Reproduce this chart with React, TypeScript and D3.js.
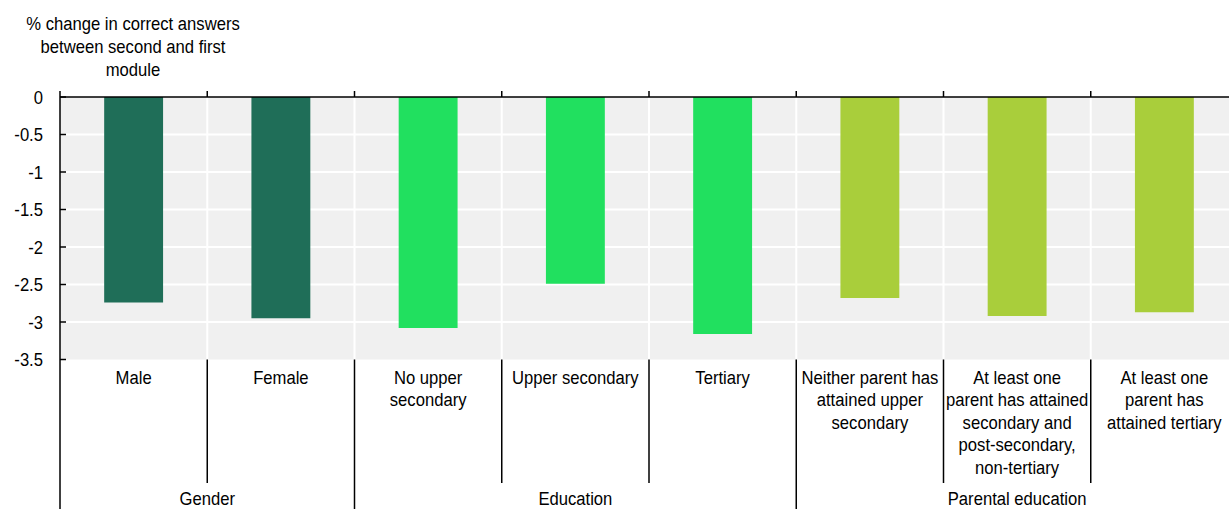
import React from "react";
import * as d3 from "d3";

const categories = [
  "Male",
  "Female",
  "No upper\nsecondary",
  "Upper secondary",
  "Tertiary",
  "Neither parent has\nattained upper\nsecondary",
  "At least one\nparent has attained\nsecondary and\npost-secondary,\nnon-tertiary",
  "At least one\nparent has\nattained tertiary",
];
const values = [-2.74, -2.95, -3.08, -2.49, -3.16, -2.68, -2.92, -2.87];
const categoryGroup = [0, 0, 1, 1, 1, 2, 2, 2];
const groups = ["Gender", "Education", "Parental education"];
const groupColors = ["#1f6e58", "#21e05f", "#a9ce3b"];
const yTicks = [0, -0.5, -1, -1.5, -2, -2.5, -3, -3.5];
const yTickLabels = ["0", "-0.5", "-1", "-1.5", "-2", "-2.5", "-3", "-3.5"];
const titleLines = ["% change in correct answers", "between second and first", "module"];

const W = 1229;
const H = 509;
const left = 60;
const right = 1238;
const top = 97;
const bottom = 359.5;
const FONT = "'Liberation Sans', Arial, sans-serif";
const FS = 18.5;
const SX = 0.9;

function T({ x, y, anchor = "middle", children }: any) {
  return (
    <text
      transform={`translate(${x},${y}) scale(${SX},1)`}
      textAnchor={anchor}
      fontFamily={FONT}
      fontSize={FS}
      fill="#000"
    >
      {children}
    </text>
  );
}

export default function App() {
  const x = d3.scaleBand<string>().domain(categories).range([left, right]).padding(0);
  const y = d3.scaleLinear().domain([0, -3.5]).range([top, bottom]);
  const bw = x.bandwidth();
  const barW = bw * 0.4;

  const boundaries = categories.slice(1).map((c, i) => ({
    x: x(c)!,
    isGroup: categoryGroup[i + 1] !== categoryGroup[i],
  }));

  const groupSpans = groups.map((g, gi) => {
    const idx = categoryGroup.map((v, i) => (v === gi ? i : -1)).filter((i) => i >= 0);
    const x0 = x(categories[idx[0]])!;
    const x1 = x(categories[idx[idx.length - 1]])! + bw;
    return { g, cx: (x0 + x1) / 2 };
  });

  return (
    <svg
      width={W}
      height={H}
      style={{ position: "absolute", left: 0, top: 0, background: "#fff" }}
    >
      <rect x={left} y={top} width={right - left} height={bottom - top} fill="#f0f0f0" />
      {yTicks.slice(1, -1).map((t) => (
        <line key={t} x1={left} x2={right} y1={y(t)} y2={y(t)} stroke="#fff" strokeWidth={2} />
      ))}
      {boundaries.map((b, i) => (
        <line key={i} x1={b.x} x2={b.x} y1={top} y2={bottom} stroke="#fff" strokeWidth={2} />
      ))}
      {categories.map((c, i) => (
        <rect
          key={c}
          x={x(c)! + (bw - barW) / 2}
          y={y(0)}
          width={barW}
          height={y(values[i]) - y(0)}
          fill={groupColors[categoryGroup[i]]}
        />
      ))}
      <line x1={left} x2={right} y1={top} y2={top} stroke="#000" strokeWidth={1.5} />
      {boundaries.map((b, i) => (
        <line key={i} x1={b.x} x2={b.x} y1={top - 6} y2={top} stroke="#000" strokeWidth={1.5} />
      ))}
      <line x1={left} x2={left} y1={top - 6} y2={H} stroke="#000" strokeWidth={1.5} />
      {yTicks.map((t, i) => (
        <g key={t}>
          <line x1={left} x2={left + 6} y1={y(t)} y2={y(t)} stroke="#000" strokeWidth={1.5} />
          <T x={43} y={y(t) + 6.5} anchor="end">
            {yTickLabels[i]}
          </T>
        </g>
      ))}
      {titleLines.map((l, i) => (
        <T key={i} x={133} y={30 + i * 23}>
          {l}
        </T>
      ))}
      {boundaries.map((b, i) => (
        <line
          key={i}
          x1={b.x}
          x2={b.x}
          y1={bottom}
          y2={b.isGroup ? H : 483}
          stroke="#000"
          strokeWidth={1.5}
        />
      ))}
      {categories.map((c) =>
        c.split("\n").map((line, li) => (
          <T key={c + li} x={x(c)! + bw / 2} y={383.5 + li * 22.5}>
            {line}
          </T>
        ))
      )}
      {groupSpans.map((g) => (
        <T key={g.g} x={g.cx} y={505}>
          {g.g}
        </T>
      ))}
    </svg>
  );
}
